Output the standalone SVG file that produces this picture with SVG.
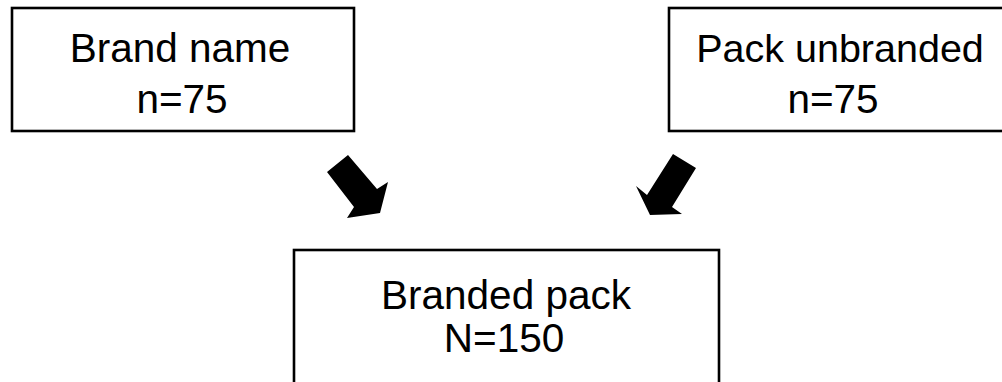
<svg xmlns="http://www.w3.org/2000/svg" width="1002" height="382" viewBox="0 0 1002 382">
  <style>
    .box { fill: #ffffff; stroke: #000000; stroke-width: 2.6; }
    .label { font-family: "Liberation Sans", Arial, sans-serif; font-size: 40.5px; fill: #000000; text-anchor: middle; }
    .arrow { fill: #000000; stroke: none; }
  </style>
  <rect width="1002" height="382" fill="#ffffff"/>

  <g id="brand-name">
    <rect class="box" x="12" y="8" width="342" height="123"/>
    <text class="label" x="180" y="62">Brand name</text>
    <text class="label" x="182" y="113">n=75</text>
  </g>

  <g id="pack-unbranded">
    <rect class="box" x="669" y="8" width="360" height="123"/>
    <text class="label" x="840" y="62" style="font-size:39.5px">Pack unbranded</text>
    <text class="label" x="833" y="113">n=75</text>
  </g>

  <g id="branded-pack">
    <rect class="box" x="294" y="250" width="425" height="160"/>
    <text class="label" x="506" y="309">Branded pack</text>
    <text class="label" x="504" y="352">N=150</text>
  </g>

  <g id="connectors">
    <polygon class="arrow" points="327,172 348,155 377,189 388,182 380,213 347,218 354,207"/>
    <polygon class="arrow" points="673,154 696,168 672,207 682,214 650,215 636,186 647,195"/>
  </g>
</svg>
